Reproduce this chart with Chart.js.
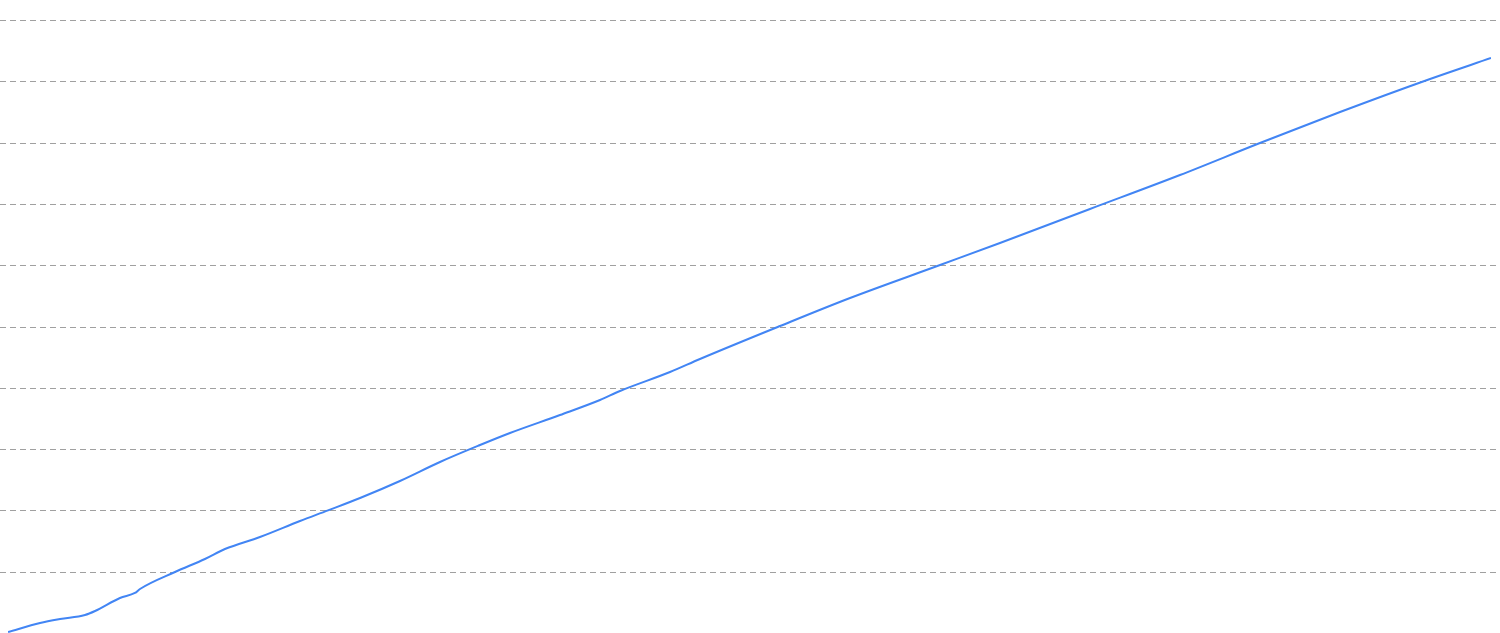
<!DOCTYPE html>
<html>
<head>
<meta charset="utf-8">
<script src="https://cdn.jsdelivr.net/npm/chart.js@4"></script>
<style>
    html, body { margin: 0; padding: 0; background: #fff; }
    #wrap { width: 1500px; height: 633px; position: relative; }
</style>
</head>
<body>
<div id="wrap"><canvas id="line-chart"></canvas></div>
<script>
// Series data (x in percent of the run, y in grid units)
const xValues = [0, 2.16, 3.51, 5.19, 5.87, 7.55, 8.56, 8.9, 11.26, 13.28, 14.63, 16.99,
    19.69, 21.58, 23.74, 26.43, 29.13, 31.83, 33.85, 37.22, 39.92, 41.27, 44.64, 46.66,
    52.06, 56.78, 62.85, 66.89, 72.96, 79.03, 84.42, 89.82, 95.89, 100];
const yValues = [0.016, 0.163, 0.228, 0.294, 0.359, 0.571, 0.653, 0.718, 0.995, 1.207, 1.37, 1.566,
    1.827, 2.0, 2.202, 2.48, 2.79, 3.067, 3.263, 3.556, 3.801, 3.948, 4.257, 4.47,
    5.008, 5.465, 6.003, 6.362, 6.917, 7.471, 7.993, 8.499, 9.038, 9.38];
const yTicks = [0, 1, 2, 3, 4, 5, 6, 7, 8, 9, 10];

function setupChart() {
    const ctx = document.getElementById('line-chart').getContext('2d');
    const points = xValues.map((x, i) => ({ x: x, y: yValues[i] }));

    new Chart(ctx, {
        type: 'line',
        data: {
            datasets: [{
                data: points,
                borderColor: 'rgb(66, 133, 244)',
                borderWidth: 2,
                pointRadius: 0,
                cubicInterpolationMode: 'monotone',
                fill: false
            }]
        },
        options: {
            responsive: true,
            maintainAspectRatio: false,
            animation: false,
            layout: {
                padding: { left: 8, right: 9, top: 20, bottom: 0 }
            },
            scales: {
                x: {
                    type: 'linear',
                    min: 0,
                    max: 100,
                    display: false
                },
                y: {
                    min: yTicks[0],
                    max: yTicks[yTicks.length - 1],
                    display: false
                }
            },
            plugins: {
                legend: { display: false },
                tooltip: { enabled: false }
            }
        },
        plugins: [{
            // dashed grid lines over the whole canvas width
            id: 'fullGrid',
            beforeDatasetsDraw(chart) {
                const c = chart.ctx;
                const scale = chart.scales.y;
                c.save();
                c.strokeStyle = '#a0a0a0';
                c.lineWidth = 1;
                c.setLineDash([6, 4]);
                yTicks.forEach(v => {
                    const y = Math.round(scale.getPixelForValue(v)) + 0.5;
                    c.beginPath();
                    c.moveTo(0, y);
                    c.lineTo(chart.width, y);
                    c.stroke();
                });
                c.restore();
            }
        }]
    });
}

document.addEventListener('DOMContentLoaded', function() {
    setupChart();
});
</script>
</body>
</html>
